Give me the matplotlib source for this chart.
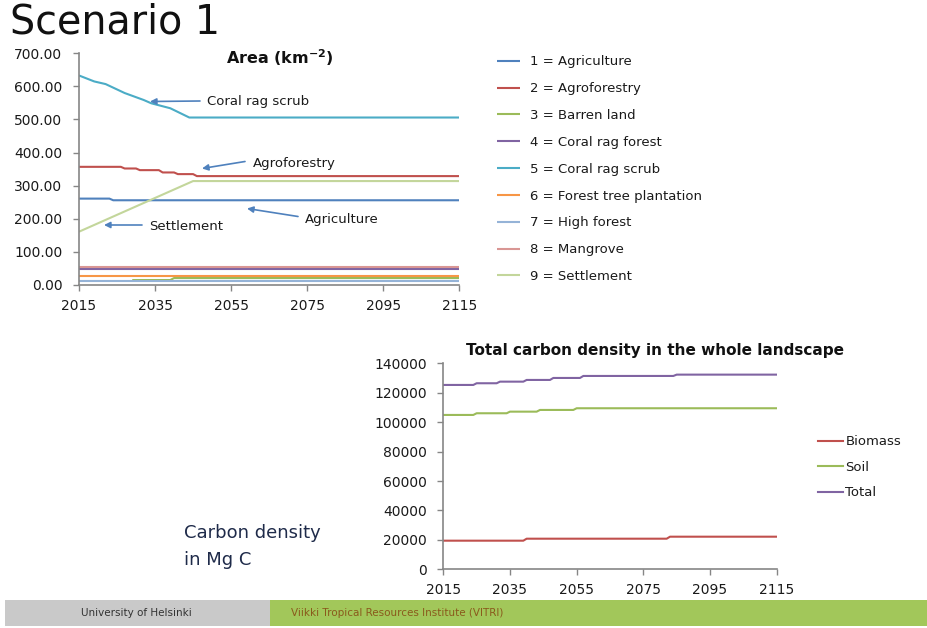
import matplotlib
matplotlib.use("Agg")
import matplotlib.pyplot as plt
from matplotlib.patches import Rectangle, FancyArrowPatch

plt.rcParams['font.family'] = ['DejaVu Sans']

# ---------------- Land-use area (km2), scenario 1 ----------------
agri_years = [2015, 2023, 2024, 2115]
agriculture = [261, 261, 256, 256]

agro_years = [2015, 2026, 2027, 2030, 2031, 2036, 2037, 2040, 2041, 2045, 2046, 2115]
agroforestry = [357, 357, 352, 352, 347, 347, 340, 340, 335, 335, 329, 329]

barren_years = [2029, 2039, 2040, 2115]
barren_land = [15, 15, 21, 21]

flat_years = [2015, 2115]
coral_rag_forest = [48, 48]

scrub_years = [2015, 2019, 2022, 2027, 2032, 2034, 2039, 2044, 2115]
coral_rag_scrub = [633, 615, 607, 580, 559, 549, 534, 506, 506]

forest_tree_plantation = [27, 27]
high_forest = [12, 12]
mangrove = [53, 53]

settle_years = [2015, 2045, 2115]
settlement = [161, 314, 314]

area_labels = ["1 = Agriculture", "2 = Agroforestry", "3 = Barren land",
               "4 = Coral rag forest", "5 = Coral rag scrub",
               "6 = Forest tree plantation", "7 = High forest",
               "8 = Mangrove", "9 = Settlement"]
area_colors = ["#4F81BD", "#C0504D", "#9BBB59", "#8064A2", "#4BACC6",
               "#F79646", "#95B3D7", "#D99694", "#C3D69B"]

area_yticks = [0, 100, 200, 300, 400, 500, 600, 700]
year_ticks = [2015, 2035, 2055, 2075, 2095, 2115]

# ---------------- Carbon density (Mg C) ----------------
biomass_years = [2015, 2039, 2040, 2082, 2083, 2115]
biomass = [19450, 19450, 20800, 20800, 22160, 22160]

soil_years = [2015, 2024, 2025, 2034, 2035, 2043, 2044, 2054, 2055, 2115]
soil = [104900, 104900, 106050, 106050, 107140, 107140, 108300, 108300, 109450, 109450]

total_years = [2015, 2024, 2025, 2031, 2032, 2039, 2040, 2047, 2048, 2056, 2057, 2084, 2085, 2115]
total = [125290, 125290, 126440, 126440, 127530, 127530, 128690, 128690,
         130040, 130040, 131400, 131400, 132300, 132300]

carbon_labels = ["Biomass", "Soil", "Total"]
carbon_colors = ["#C0504D", "#9BBB59", "#8064A2"]
carbon_yticks = list(range(0, 140001, 20000))

# ---------------- Figure ----------------
W, H = 927, 628
fig = plt.figure(figsize=(W / 100, H / 100), dpi=100)
fig.patch.set_facecolor("white")


def fx(px):
    return px / W


def fy(py):
    return 1 - py / H


TXT = "#1a1a1a"
AXC = "#868686"


def style_axes(ax, fs):
    for s in ("top", "right"):
        ax.spines[s].set_visible(False)
    for s in ("left", "bottom"):
        ax.spines[s].set_color(AXC)
        ax.spines[s].set_linewidth(1.2)
    ax.tick_params(axis="both", direction="out", length=4, width=1,
                   color=AXC, labelcolor=TXT, labelsize=fs)
    ax.tick_params(axis="y", pad=8)
    ax.tick_params(axis="x", pad=6)
    ax.set_facecolor("none")


# Area chart
ax1 = fig.add_axes([fx(79), fy(285), fx(459.3) - fx(79), (285 - 53.3) / H])
series = [
    (agri_years, agriculture), (agro_years, agroforestry),
    (barren_years, barren_land), (flat_years, coral_rag_forest),
    (scrub_years, coral_rag_scrub), (flat_years, forest_tree_plantation),
    (flat_years, high_forest), (flat_years, mangrove),
    (settle_years, settlement),
]
handles = []
for (xs, ys), lab, col in zip(series, area_labels, area_colors):
    h, = ax1.plot(xs, ys, color=col, lw=1.5, label=lab, solid_capstyle="butt")
    handles.append(h)
ax1.set_xlim(2015, 2115)
ax1.set_ylim(0, 700)
ax1.set_yticks(area_yticks)
ax1.set_yticklabels([f"{v:.2f}" for v in area_yticks])
ax1.set_xticks(year_ticks)
style_axes(ax1, 10)

fig.text(fx(280), fy(58), r"Area (km$^{\mathbf{-2}}$)", ha="center", va="center",
         fontsize=11.5, fontweight="bold", color="#111111")

leg1 = fig.legend(handles=handles, loc="upper left",
                  bbox_to_anchor=(fx(492), fy(50)), frameon=False,
                  fontsize=9.5, handlelength=1.7, handletextpad=0.75,
                  labelspacing=1.05, borderaxespad=0)
for t in leg1.get_texts():
    t.set_color(TXT)

# annotations on the area chart
arrow_kw = dict(arrowstyle="-|>", color="#4F81BD", lw=1.2, mutation_scale=9,
                shrinkA=0, shrinkB=0)
notes = [
    ("Coral rag scrub", (207, 102), (200, 101), (150, 101.5)),
    ("Agroforestry", (253, 163), (245, 161.5), (202, 168.5)),
    ("Agriculture", (305, 220), (298, 216.5), (247, 208.5)),
    ("Settlement", (149, 227), (142, 225), (104, 225)),
]
for text, (tx, ty), (ax_, ay_), (bx, by) in notes:
    fig.text(fx(tx), fy(ty), text, ha="left", va="center", fontsize=9.5, color=TXT)
    fig.add_artist(FancyArrowPatch((fx(ax_), fy(ay_)), (fx(bx), fy(by)),
                                   transform=fig.transFigure, **arrow_kw))

# Carbon chart
ax2 = fig.add_axes([fx(443.3), fy(569.3), fx(776.7) - fx(443.3), (569.3 - 363.3) / H])
chandles = []
for (xs, ys), lab, col in zip([(biomass_years, biomass), (soil_years, soil),
                               (total_years, total)], carbon_labels, carbon_colors):
    h, = ax2.plot(xs, ys, color=col, lw=1.5, label=lab)
    chandles.append(h)
ax2.set_xlim(2015, 2115)
ax2.set_ylim(0, 140000)
ax2.set_yticks(carbon_yticks)
ax2.set_yticklabels([f"{v:d}" for v in carbon_yticks])
ax2.set_xticks(year_ticks)
style_axes(ax2, 10)

fig.text(fx(655), fy(351), "Total carbon density in the whole landscape",
         ha="center", va="center", fontsize=11, fontweight="bold", color="#111111")

leg2 = fig.legend(handles=chandles, loc="upper left",
                  bbox_to_anchor=(fx(813), fy(430)), frameon=False,
                  fontsize=9.5, handlelength=1.9, handletextpad=0.15,
                  labelspacing=0.95, borderaxespad=0)
for t in leg2.get_texts():
    t.set_color(TXT)

fig.text(fx(184), fy(533), "Carbon density", ha="left", va="center",
         fontsize=13, color="#1F2B4A")
fig.text(fx(184), fy(560), "in Mg C", ha="left", va="center",
         fontsize=13, color="#1F2B4A")

# Page title
fig.text(fx(10), fy(23), "Scenario 1", ha="left", va="center",
         fontsize=28.5, color="#111111")

# Footer band
fig.add_artist(Rectangle((fx(5), fy(626)), fx(270) - fx(5), (626 - 600) / H,
                         transform=fig.transFigure, facecolor="#C9C9C9",
                         edgecolor="none"))
fig.add_artist(Rectangle((fx(270), fy(626)), 1 - fx(270), (626 - 600) / H,
                         transform=fig.transFigure, facecolor="#A2C75A",
                         edgecolor="none"))
fig.text(fx(136), fy(613), "University of Helsinki", ha="center", va="center",
         fontsize=7.5, color="#333333")
fig.text(fx(291), fy(613), "Viikki Tropical Resources Institute (VITRI)",
         ha="left", va="center", fontsize=7.5, color="#8A5A1C")

fig.savefig("out.png", dpi=100)
